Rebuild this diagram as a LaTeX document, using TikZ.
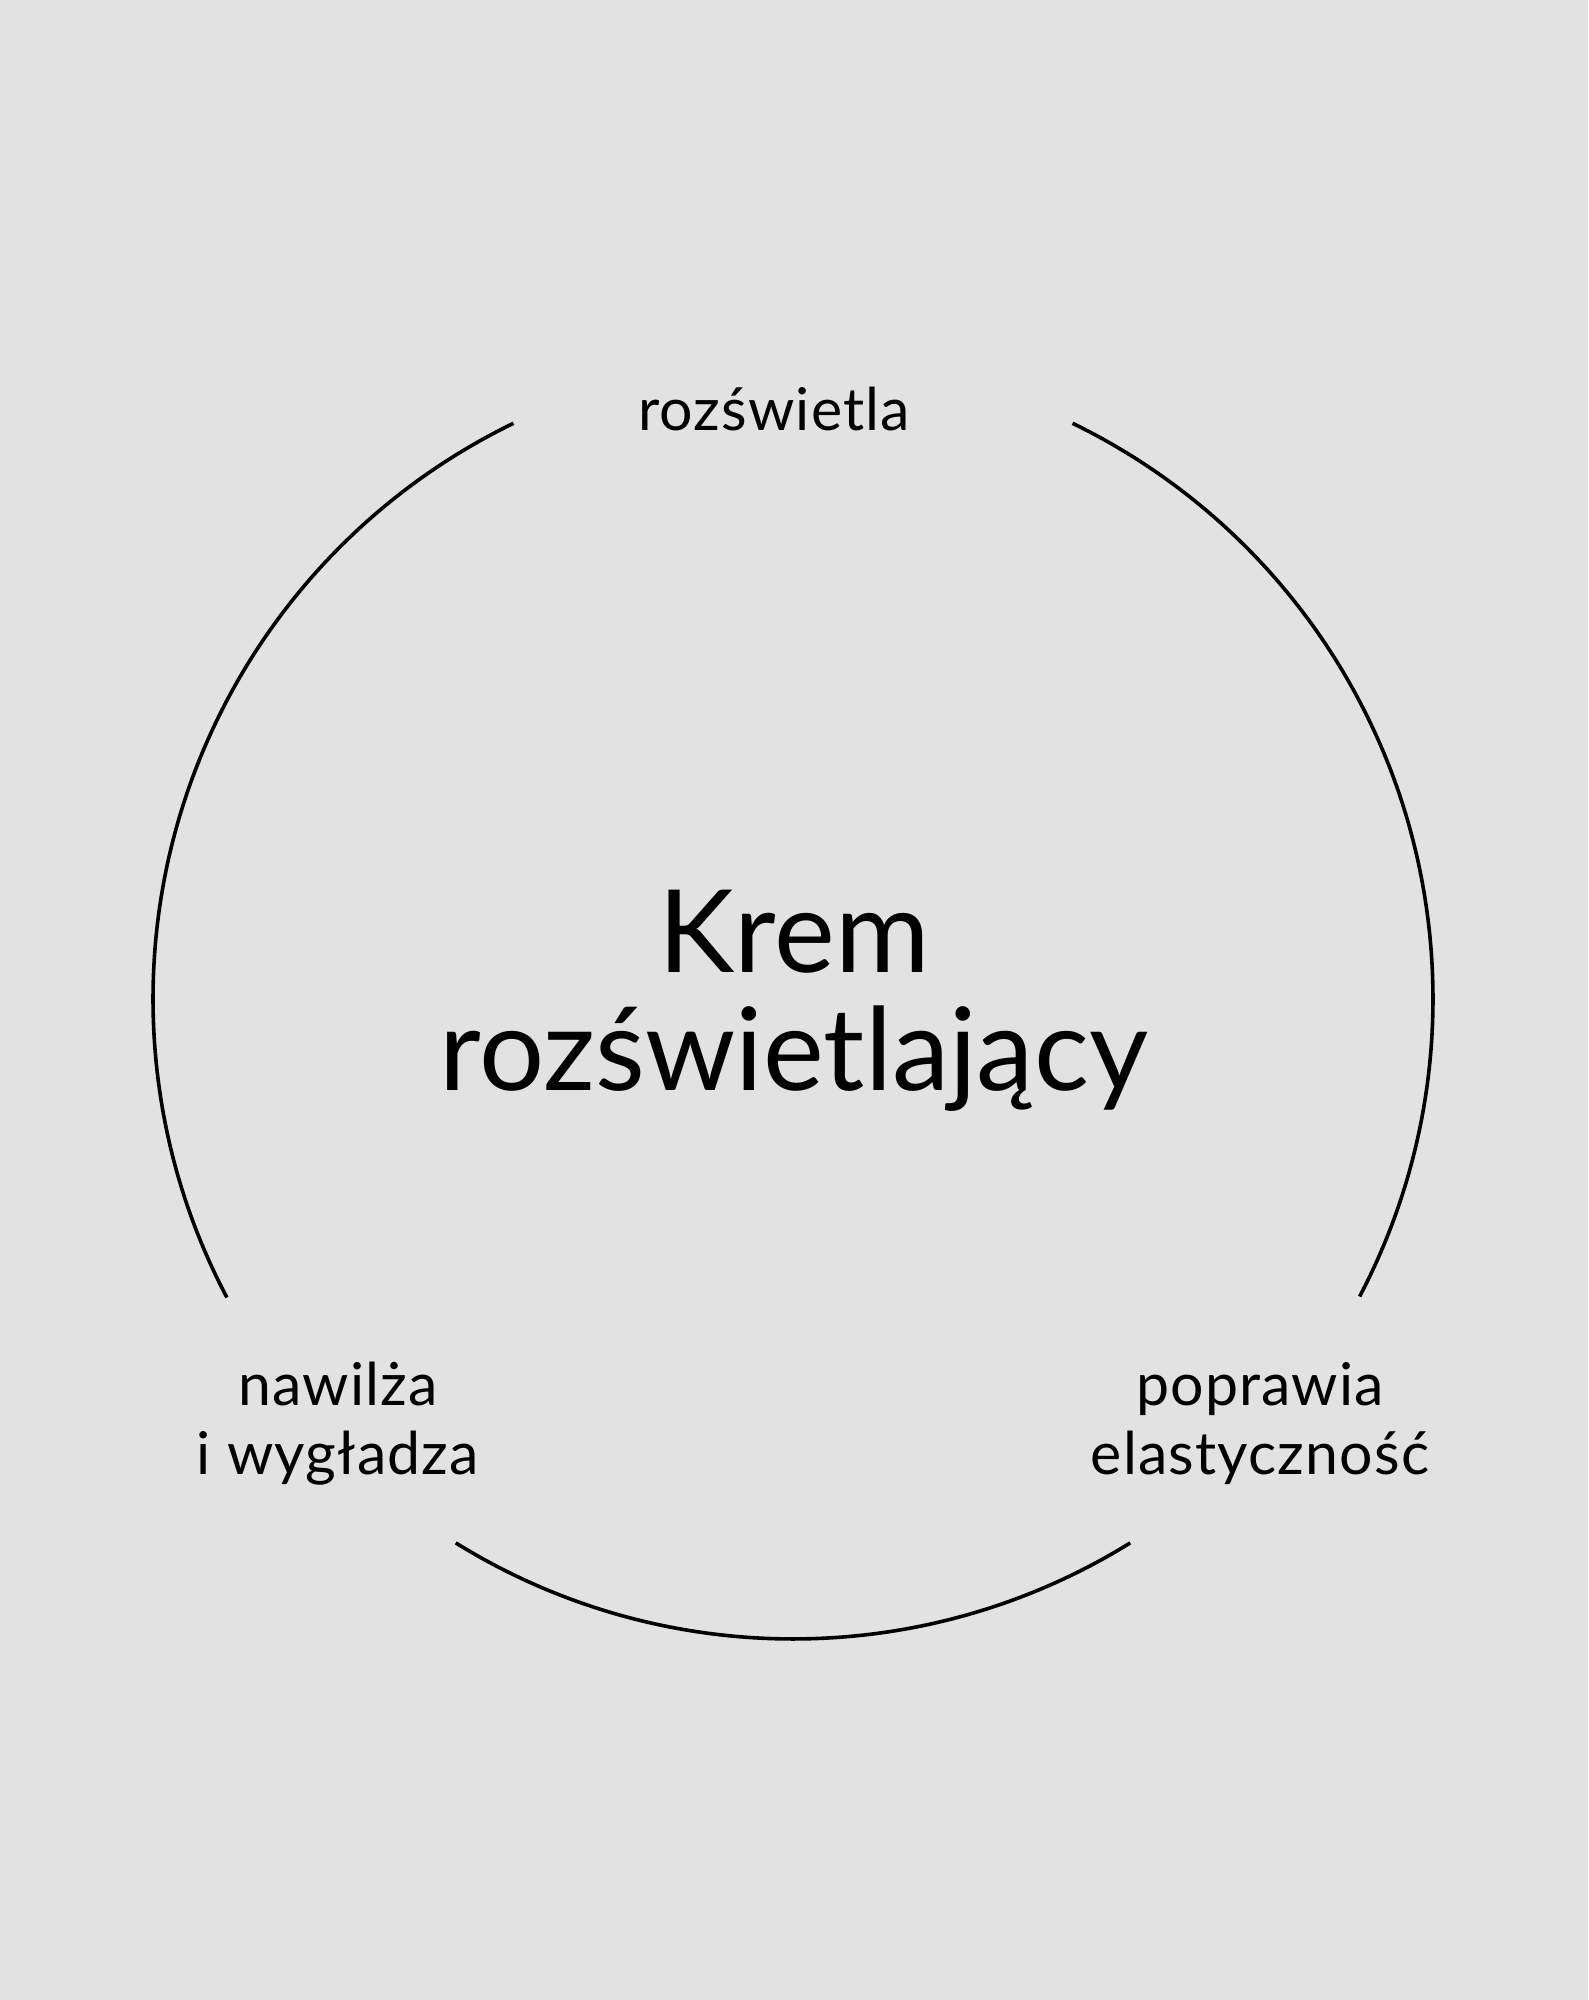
\documentclass[tikz,border=0pt]{standalone}
\usepackage{fontspec}
\setmainfont{Lato}
\definecolor{tlo}{RGB}{226,226,226}

\begin{document}
\begin{tikzpicture}[x=1pt,y=1pt,
    ring/.style={line width=3.6pt,black},
    haslo/.style={font=\fontsize{59}{69}\selectfont\addfontfeatures{LetterSpace=2},align=center,inner sep=0pt},
    tytul/.style={font=\fontsize{115}{118}\selectfont,align=center,inner sep=0pt}]
            \fill[tlo] (0,0) rectangle (1588,2000);
            \useasboundingbox (0,0) rectangle (1588,2000);
            \coordinate (c) at (793,1001);
            % trzy luki okregu
            \draw[ring] (c) ++(115.9:640pt) arc[start angle=115.9,end angle=207.8,radius=640pt];
            \draw[ring] (c) ++(238.2:640pt) arc[start angle=238.2,end angle=301.8,radius=640pt];
            \draw[ring] (c) ++(332.3:640pt) arc[start angle=332.3,end angle=424.1,radius=640pt];
            \node[tytul] (krem) at (794,999) {Krem\\rozświetlający};
            \node[haslo,anchor=base] (gora) at (774,1569) {rozświetla};
            \node[haslo] (lewo) at (338,576) {nawilża\\i wygładza};
            \node[haslo] (prawo) at (1260,576) {poprawia\\elastyczność};
        \end{tikzpicture}
\end{document}
